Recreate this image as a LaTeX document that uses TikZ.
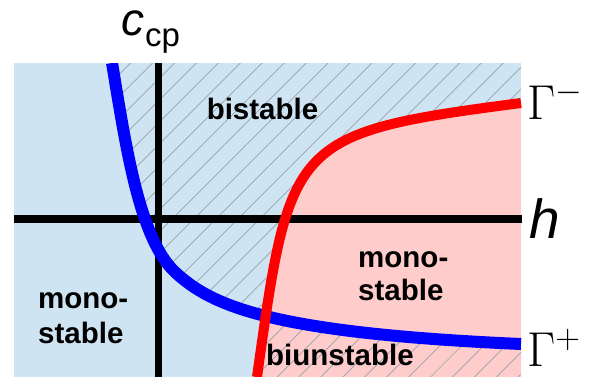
\RequirePackage{fix-cm}
\documentclass[tikz,border=0pt]{standalone}
\usepackage[no-math]{fontspec}
\setsansfont{Liberation Sans}
\usepackage{tikz}
\usetikzlibrary{positioning, patterns.meta}

\definecolor{pale_blue}{RGB}{207,228,242}
\definecolor{pale_red}{RGB}{255,204,204}
\definecolor{hatch_gray}{RGB}{150,160,172}

\newcommand{\bluecurve}{(112,63) .. controls (125.3,141.9) and (138.5,238) .. (175,272) .. controls (211.5,306) and (271,333) .. (521,344)}
\newcommand{\redcurve}{(257,377) .. controls (290,140) and (291,133) .. (521,103)}

\begin{document}
\begin{tikzpicture}[x=1bp, y=-1bp]
        \tikzstyle{region_label} = [font=\sffamily\bfseries\fontsize{29.5bp}{35bp}\selectfont, inner sep=0pt, align=left]
        \tikzstyle{gamma_label} = [font=\fontsize{49bp}{55bp}\selectfont, inner sep=0pt, anchor=base west]
        \tikzstyle{hatch_style} = [pattern={Lines[angle=45, distance=15.5bp, line width=0.7bp]}, pattern color=hatch_gray]
        \tikzstyle{axis_line} = [line width=7.5bp, draw=black]
        \tikzstyle{blue_curve} = [line width=12bp, draw=blue]
        \tikzstyle{red_curve} = [line width=10bp, draw=red]

        \useasboundingbox (0,0) rectangle (598,391);

        % Axis end points
        \coordinate (h_start) at (14,219);
        \coordinate (h_end) at (522,219);
        \coordinate (v_start) at (158.5,376.5);
        \coordinate (v_end) at (158.5,63);

        % Background
        \fill[pale_blue] (14,63) rectangle (521,376.5);

        \begin{scope}
            \clip (14,63) rectangle (522,376.5);
            % Region right of the red curve
            \fill[pale_red] \redcurve -- (521,377) -- cycle;

            % Hatching: bistable
            \begin{scope}
                \clip \bluecurve -- (521,63) -- cycle;
                \clip \redcurve -- (521,63) -- (14,63) -- (14,377) -- cycle;
                \fill[hatch_style] (14,63) rectangle (521,377);
            \end{scope}

            % Hatching: biunstable
            \begin{scope}
                \clip \bluecurve -- (521,377) -- (14,377) -- (14,63) -- cycle;
                \clip \redcurve -- (521,377) -- cycle;
                \fill[hatch_style] (14,63) rectangle (521,377);
            \end{scope}

            % Axes
            \draw[axis_line] (h_start) -- (h_end);
            \draw[axis_line] (v_start) -- (v_end);

            % Curves
            \draw[blue_curve] \bluecurve;
            \draw[red_curve] \redcurve;
        \end{scope}

        % Axis labels
        \node (cp_label) [inner sep=0pt, anchor=base west] at (121,35) {\sffamily\fontsize{46bp}{50bp}\selectfont\itshape c\kern1bp\raisebox{-11bp}{\fontsize{33bp}{36bp}\selectfont\upshape cp}};
        \node (h_label) [right=7bp of h_end, inner sep=0pt, font=\sffamily\itshape\fontsize{55bp}{60bp}\selectfont] {h};
        \node (gm_label) [gamma_label] at (527,119) {$\Gamma^-$};
        \node (gp_label) [gamma_label] at (527,366) {$\Gamma^+$};

        % Region labels
        \node (bi_label) [region_label, anchor=base] at (262.5,119) {bistable};
        \node (mono_left) [region_label, anchor=base west] at (38,343) {mono-\\stable};
        \node (mono_right) [region_label, anchor=base west, font=\sffamily\bfseries\fontsize{29.5bp}{33bp}\selectfont] at (358,300) {mono-\\stable};
        \node (biun_label) [region_label, anchor=base west] at (266,365) {biunstable};
    \end{tikzpicture}
\end{document}
